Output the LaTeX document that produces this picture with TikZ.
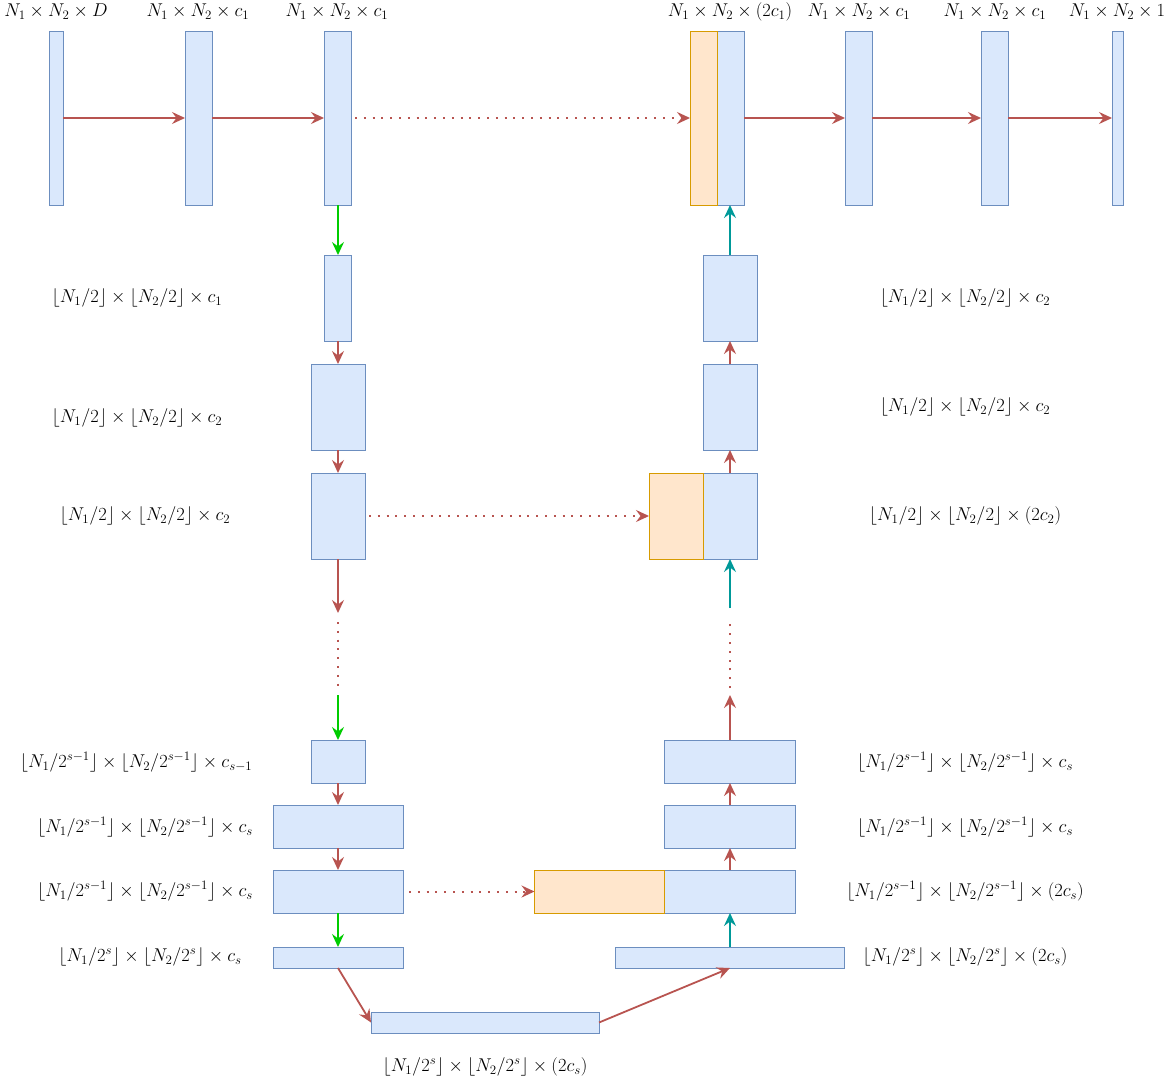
\RequirePackage{fix-cm}
\documentclass[tikz,border=0pt]{standalone}
\usepackage{xcolor}
\usepackage{tikz}
\usetikzlibrary{arrows.meta, positioning}

\definecolor{featfill}{HTML}{DAE8FC}
\definecolor{featdraw}{HTML}{6C8EBF}
\definecolor{skipfill}{HTML}{FFE6CC}
\definecolor{skipdraw}{HTML}{D79B00}
\definecolor{flowred}{HTML}{B85450}
\definecolor{poolgreen}{HTML}{00CC00}
\definecolor{upteal}{HTML}{009999}

\begin{document}
\begin{tikzpicture}[x=1pt, y=-1pt, font=\fontsize{18.5}{22}\selectfont]
\tikzstyle{feat} = [rectangle, draw=featdraw, fill=featfill, line width=1pt, inner sep=0pt, outer sep=0pt]
\tikzstyle{skip} = [rectangle, draw=skipdraw, fill=skipfill, line width=1pt, inner sep=0pt, outer sep=0pt]
\tikzstyle{tip} = [-{Stealth[length=13pt, width=12pt, inset=4.5pt]}]
\tikzstyle{flow} = [tip, line width=1.8pt, draw=flowred]
\tikzstyle{pool} = [tip, line width=1.8pt, draw=poolgreen]
\tikzstyle{upconv} = [tip, line width=1.8pt, draw=upteal]
\tikzstyle{copy} = [line width=2pt, draw=flowred, dash pattern=on 2pt off 6.8pt]
\tikzstyle{dims} = [inner sep=0pt]

\useasboundingbox (0,0) rectangle (1175,1082);

% top row
\node (in) [feat, minimum width=14, minimum height=174] at (56,118) {};
\node (c1a) [feat, minimum width=27, minimum height=174] at (198.5,118) {};
\node (c1b) [feat, minimum width=27, minimum height=174] at (337.5,118) {};
\node (up1) [feat, minimum width=27, minimum height=174] at (730.5,118) {};
\node (cat1) [skip, minimum width=27, minimum height=174, left=0pt of up1] {};
\node (o1) [feat, minimum width=27, minimum height=174] at (858.5,118) {};
\node (o2) [feat, minimum width=27, minimum height=174] at (994.5,118) {};
\node (out) [feat, minimum width=11, minimum height=174] at (1117.5,118) {};

\node [dims] at (56,12) {$N_1\times N_2\times D$};
\node [dims] at (198,12) {$N_1\times N_2\times c_1$};
\node [dims] at (337,12) {$N_1\times N_2\times c_1$};
\node [dims] at (730,12) {$N_1\times N_2\times (2c_1)$};
\node [dims] at (859,12) {$N_1\times N_2\times c_1$};
\node [dims] at (995,12) {$N_1\times N_2\times c_1$};
\node [dims] at (1117,12) {$N_1\times N_2\times 1$};

% encoder
\node (d1) [feat, minimum width=27, minimum height=86] at (338,298) {};
\node (d2) [feat, minimum width=54, minimum height=86, below=23pt of d1] {};
\node (d3) [feat, minimum width=54, minimum height=86, below=23pt of d2] {};
\node (d4) [feat, minimum width=54, minimum height=43] at (338,761.5) {};
\node (d5) [feat, minimum width=130, minimum height=43, below=22pt of d4] {};
\node (d6) [feat, minimum width=130, minimum height=43, below=22pt of d5] {};
\node (d7) [feat, minimum width=130, minimum height=21] at (338,957.5) {};
\node (bott) [feat, minimum width=228, minimum height=21] at (485,1022.5) {};

% decoder
\node (u1) [feat, minimum width=54, minimum height=86] at (730,298) {};
\node (u2) [feat, minimum width=54, minimum height=86, below=23pt of u1] {};
\node (u3) [feat, minimum width=54, minimum height=86, below=23pt of u2] {};
\node (cat2) [skip, minimum width=54, minimum height=86, left=0pt of u3] {};
\node (u4) [feat, minimum width=131, minimum height=43] at (730,761.5) {};
\node (u5) [feat, minimum width=131, minimum height=43, below=22pt of u4] {};
\node (u6) [feat, minimum width=131, minimum height=43, below=22pt of u5] {};
\node (cat3) [skip, minimum width=130, minimum height=43, left=0pt of u6] {};
\node (u7) [feat, minimum width=229, minimum height=21] at (730,957.5) {};

\node [dims] at (137,298) {$\lfloor N_1/2\rfloor\times\lfloor N_2/2\rfloor\times c_1$};
\node [dims] at (137,418) {$\lfloor N_1/2\rfloor\times\lfloor N_2/2\rfloor\times c_2$};
\node [dims] at (145,516) {$\lfloor N_1/2\rfloor\times\lfloor N_2/2\rfloor\times c_2$};
\node [dims] at (136,762) {$\lfloor N_1/2^{s-1}\rfloor\times\lfloor N_2/2^{s-1}\rfloor\times c_{s-1}$};
\node [dims] at (145,827) {$\lfloor N_1/2^{s-1}\rfloor\times\lfloor N_2/2^{s-1}\rfloor\times c_s$};
\node [dims] at (145,891) {$\lfloor N_1/2^{s-1}\rfloor\times\lfloor N_2/2^{s-1}\rfloor\times c_s$};
\node [dims] at (150,957) {$\lfloor N_1/2^s\rfloor\times\lfloor N_2/2^s\rfloor\times c_s$};
\node [dims] at (965,298) {$\lfloor N_1/2\rfloor\times\lfloor N_2/2\rfloor\times c_2$};
\node [dims] at (965,407) {$\lfloor N_1/2\rfloor\times\lfloor N_2/2\rfloor\times c_2$};
\node [dims] at (965,516) {$\lfloor N_1/2\rfloor\times\lfloor N_2/2\rfloor\times (2c_2)$};
\node [dims] at (965,762) {$\lfloor N_1/2^{s-1}\rfloor\times\lfloor N_2/2^{s-1}\rfloor\times c_s$};
\node [dims] at (965,827) {$\lfloor N_1/2^{s-1}\rfloor\times\lfloor N_2/2^{s-1}\rfloor\times c_s$};
\node [dims] at (965,891) {$\lfloor N_1/2^{s-1}\rfloor\times\lfloor N_2/2^{s-1}\rfloor\times (2c_s)$};
\node [dims] at (965,957) {$\lfloor N_1/2^s\rfloor\times\lfloor N_2/2^s\rfloor\times (2c_s)$};
\node [dims] at (485,1067) {$\lfloor N_1/2^s\rfloor\times\lfloor N_2/2^s\rfloor\times (2c_s)$};

% gaps in the columns
\coordinate (dgapA) at (338,613);
\coordinate (dgapB) at (338,622);
\coordinate (dgapC) at (338,688);
\coordinate (dgapD) at (338,695);
\coordinate (ugapA) at (730,608);
\coordinate (ugapB) at (730,622);
\coordinate (ugapC) at (730,688);
\coordinate (ugapD) at (730,695);

% connectors
\draw [flow] (in) -- (c1a);
\draw [flow] (c1a) -- (c1b);
\draw [copy, tip, shorten <=4pt] (c1b) -- (cat1);
\draw [flow] (up1) -- (o1);
\draw [flow] (o1) -- (o2);
\draw [flow] (o2) -- (out);

\draw [pool] (c1b.south -| d1) -- (d1);
\draw [flow] (d1) -- (d2);
\draw [flow] (d2) -- (d3);
\draw [copy, tip, shorten <=4pt] (d3) -- (cat2);
\draw [flow] (d3) -- (dgapA);
\draw [copy] (dgapB) -- (dgapC);
\draw [pool] (dgapD) -- (d4);
\draw [flow] (d4) -- (d5);
\draw [flow] (d5) -- (d6);
\draw [copy, tip, shorten <=6pt] (d6) -- (cat3);
\draw [pool] (d6) -- (d7);
\draw [flow] (d7.south) -- (bott.west);
\draw [flow] (bott.east) -- (u7.south);

\draw [upconv] (u7) -- (u6);
\draw [flow] (u6) -- (u5);
\draw [flow] (u5) -- (u4);
\draw [flow] (u4) -- (ugapD);
\draw [copy] (ugapC) -- (ugapB);
\draw [upconv] (ugapA) -- (u3);
\draw [flow] (u3) -- (u2);
\draw [flow] (u2) -- (u1);
\draw [upconv] (u1) -- (u1.north |- up1.south);

\end{tikzpicture}
\end{document}
